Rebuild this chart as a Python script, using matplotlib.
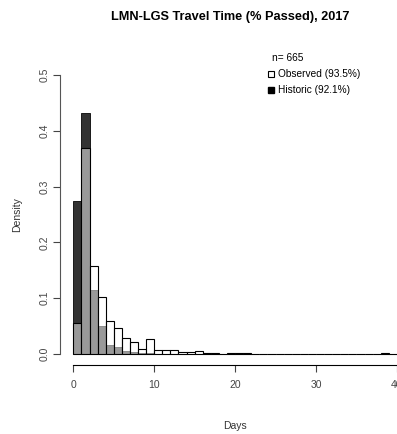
import matplotlib.pyplot as plt
import numpy as np

# histogram densities, one-day bins starting at 0
edges = np.arange(0, 41)
observed = [0.055, 0.370, 0.157, 0.102, 0.059, 0.046, 0.028, 0.021, 0.009, 0.027,
            0.008, 0.008, 0.008, 0.003, 0.003, 0.006, 0.001, 0.001, 0.0, 0.001,
            0.001, 0.001, 0.0, 0.0, 0.0, 0.0, 0.0, 0.0, 0.0, 0.0,
            0.0, 0.0, 0.0, 0.0, 0.0, 0.0, 0.0, 0.0, 0.002, 0.0]
historic = [0.275, 0.432, 0.114, 0.050, 0.016, 0.013, 0.005, 0.003, 0.001, 0.001] + [0.0] * 30

x_ticks = [0, 10, 20, 30, 40]
y_ticks = [0.0, 0.1, 0.2, 0.3, 0.4, 0.5]
n_obs = 665
labels = ['Observed (93.5%)', 'Historic (92.1%)']

plt.rcParams['font.family'] = ['Liberation Sans', 'DejaVu Sans']

W, H = 397, 434
fig = plt.figure(figsize=(W / 100, H / 100), dpi=100)
ax = fig.add_axes([60.4 / W, (H - 365.2) / H, 349.4 / W, 301.4 / H])

left = edges[:-1]
ax.bar(left, historic, width=1, align='edge', color='#333333', edgecolor='#1a1a1a', linewidth=0.7)
ax.bar(left, observed, width=1, align='edge', facecolor=(1, 1, 1, 0.5), edgecolor='black', linewidth=0.8)

ax.set_xlim(-1.6, 41.6)
ax.set_ylim(-0.02, 0.52)
for s in ['top', 'right']:
    ax.spines[s].set_visible(False)
ax.spines['left'].set_bounds(0, 0.5)
ax.spines['bottom'].set_bounds(0, 40)
ax.spines['left'].set_color('#555555')
ax.spines['left'].set_linewidth(0.8)
ax.spines['bottom'].set_linewidth(0.8)

ax.set_xticks(x_ticks)
ax.set_yticks(y_ticks)
ax.set_yticklabels([f'{v:.1f}' for v in y_ticks], rotation=90, va='center')
ax.tick_params(axis='both', length=5, width=0.8, labelsize=7.5, colors='#444444')
ax.tick_params(axis='x', pad=6)
ax.tick_params(axis='y', pad=3)

ax.set_xlabel('Days', fontsize=7.5, color='#333333', labelpad=22)
ax.set_ylabel('Density', fontsize=7.5, color='#333333', labelpad=12)

fig.text(230 / W, 1 - 17 / H, 'LMN-LGS Travel Time (% Passed), 2017',
         ha='center', va='center', fontsize=9.2, fontweight='bold')

# legend block
fig.text(272 / W, 1 - 58 / H, f'n= {n_obs}', ha='left', va='center', fontsize=7.3)
ax.plot([271 / W], [1 - 74 / H], marker='s', markersize=3.8, markerfacecolor='white',
        markeredgecolor='black', markeredgewidth=0.8, transform=fig.transFigure, clip_on=False)
ax.plot([271 / W], [1 - 90 / H], marker='s', markersize=3.8, color='black',
        transform=fig.transFigure, clip_on=False)
fig.text(278 / W, 1 - 74 / H, labels[0], ha='left', va='center', fontsize=7.3)
fig.text(278 / W, 1 - 90 / H, labels[1], ha='left', va='center', fontsize=7.3)

fig.savefig('out.png', dpi=100)
